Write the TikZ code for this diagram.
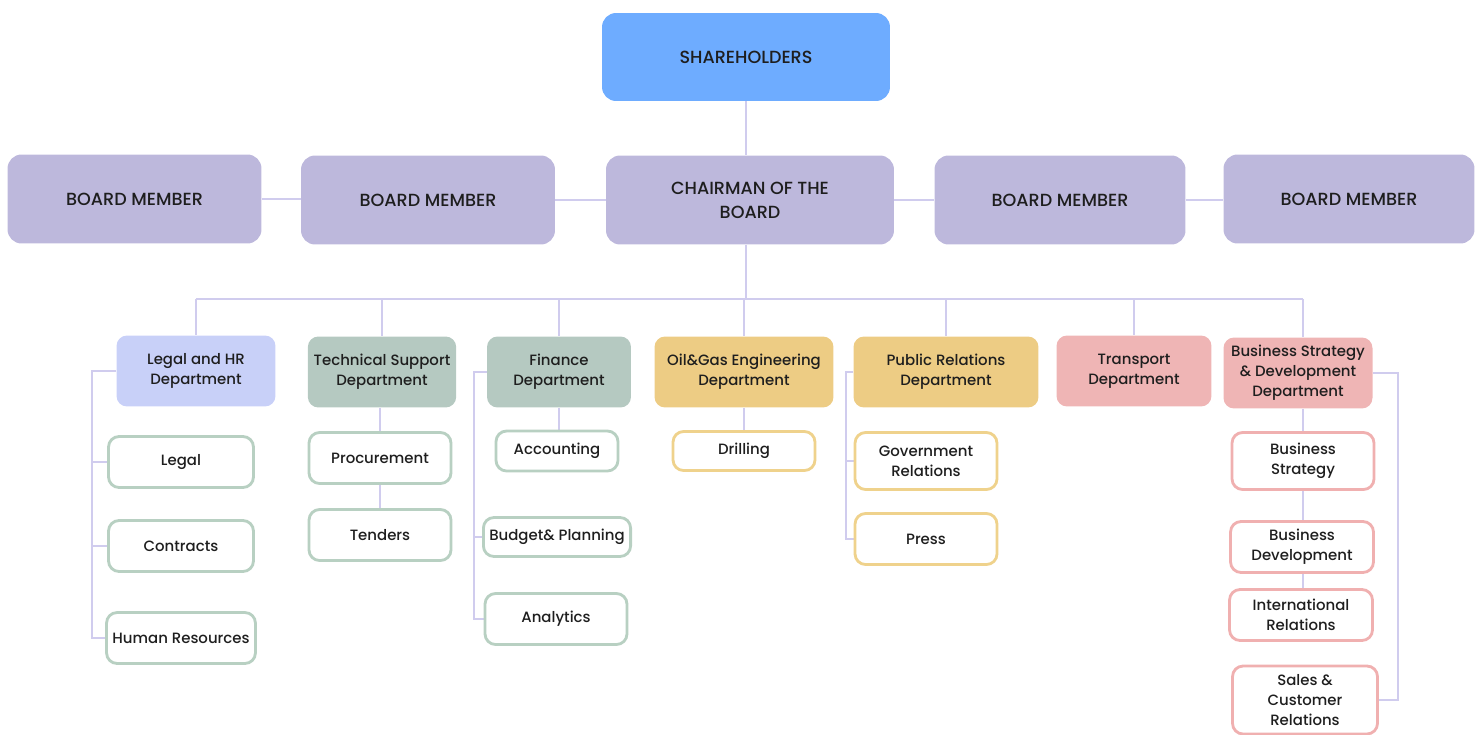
\documentclass[tikz,border=0pt]{standalone}
\usepackage{fontspec}
\setmainfont{Poppins}[UprightFont=* Medium]
\usepackage{tikz}
\usetikzlibrary{positioning, calc, backgrounds}
\definecolor{cTop}{RGB}{110,172,255}
\definecolor{cBoard}{RGB}{189,184,220}
\definecolor{cHR}{RGB}{200,208,248}
\definecolor{cSage}{RGB}{181,201,193}
\definecolor{cSageLine}{RGB}{184,208,194}
\definecolor{cGold}{RGB}{237,204,132}
\definecolor{cGoldLine}{RGB}{239,210,140}
\definecolor{cRose}{RGB}{239,181,181}
\definecolor{cRoseLine}{RGB}{240,176,176}
\definecolor{cLink}{RGB}{208,204,238}
\definecolor{cInk}{RGB}{30,30,30}
\tikzset{
	topbox/.style={rectangle, rounded corners=8pt, minimum width=5.76cm, minimum height=1.76cm, text centered, align=center, fill=cTop, font=\fontsize{10}{13.6}\selectfont, text=cInk},
	boardbox/.style={rectangle, rounded corners=8pt, minimum width=5.08cm, minimum height=1.78cm, text centered, align=center, fill=cBoard, font=\fontsize{10}{13.6}\selectfont, text=cInk},
	deptbox/.style={rectangle, rounded corners=6pt, minimum height=1.42cm, text centered, align=center, font=\fontsize{8.5}{11.3}\selectfont, text=cInk},
	unitbox/.style={rectangle, rounded corners=6pt, minimum width=2.9cm, minimum height=1.02cm, text centered, align=center, fill=white, line width=1.6pt, font=\fontsize{8.5}{11.3}\selectfont, text=cInk},
	link/.style={draw=cLink, line width=1.4pt},
}
\begin{document}
\begin{tikzpicture}[x=0.02cm, y=-0.02cm]
	\useasboundingbox (0,0) rectangle (1481,734);
	% top levels
	\node[topbox] (share) at (746,57) {SHAREHOLDERS};
	\node[boardbox, minimum width=5.76cm] (chair) at (750,200) {CHAIRMAN OF THE\\BOARD};
	\node[boardbox] (bm1) at (134.5,199) {BOARD MEMBER};
	\node[boardbox] (bm2) at (428,200) {BOARD MEMBER};
	\node[boardbox, minimum width=5.02cm] (bm3) at (1060,200) {BOARD MEMBER};
	\node[boardbox, minimum width=5.02cm] (bm4) at (1349,199) {BOARD MEMBER};
	% departments
	\node[deptbox, fill=cHR, minimum width=3.18cm] (lhr) at (196,371) {Legal and HR\\Department};
	\node[deptbox, fill=cSage, minimum width=2.96cm] (tech) at (382,372) {Technical Support\\Department};
	\node[deptbox, fill=cSage, minimum width=2.88cm] (fin) at (559,372) {Finance\\Department};
	\node[deptbox, fill=cGold, minimum width=3.58cm] (oil) at (744,372) {Oil\&Gas Engineering\\Department};
	\node[deptbox, fill=cGold, minimum width=3.7cm] (pr) at (946,372) {Public Relations\\Department};
	\node[deptbox, fill=cRose, minimum width=3.1cm] (trans) at (1134,371) {Transport\\Department};
	\node[deptbox, fill=cRose, minimum width=2.98cm] (bsd) at (1298,373) {Business Strategy\\\& Development\\Department};
	% units
	\node[unitbox, draw=cSageLine] (legal) at (181,462) {Legal};
	\node[unitbox, draw=cSageLine] (contr) at (181,546) {Contracts};
	\node[unitbox, draw=cSageLine] (hres) at (181,638) {Human Resources};
	\node[unitbox, draw=cSageLine, minimum width=2.84cm] (proc) at (380,458) {Procurement};
	\node[unitbox, draw=cSageLine, minimum width=2.84cm] (tend) at (380,535) {Tenders};
	\node[unitbox, draw=cSageLine, minimum width=2.44cm, minimum height=0.8cm] (acc) at (557,451) {Accounting};
	\node[unitbox, draw=cSageLine, minimum width=2.92cm, minimum height=0.78cm] (budg) at (557,537) {Budget\& Planning};
	\node[unitbox, draw=cSageLine, minimum width=2.84cm] (anal) at (556,619) {Analytics};
	\node[unitbox, draw=cGoldLine, minimum width=2.84cm, minimum height=0.78cm] (drill) at (744,451) {Drilling};
	\node[unitbox, draw=cGoldLine, minimum width=2.84cm, minimum height=1.14cm] (gov) at (926,461) {Government\\Relations};
	\node[unitbox, draw=cGoldLine, minimum width=2.84cm] (press) at (926,539) {Press};
	\node[unitbox, draw=cRoseLine, minimum width=2.84cm, minimum height=1.14cm] (bstr) at (1303,461) {Business\\Strategy};
	\node[unitbox, draw=cRoseLine, minimum width=2.86cm] (bdev) at (1302,547) {Business\\Development};
	\node[unitbox, draw=cRoseLine, minimum width=2.86cm] (intl) at (1301,615) {International\\Relations};
	\node[unitbox, draw=cRoseLine, minimum width=2.9cm, minimum height=1.36cm] (sales) at (1305,700) {Sales \&\\Customer\\Relations};
	% rails
	\coordinate (bus) at (746,299);
	\coordinate (lhrrail) at (92,370);
	\coordinate (finrail) at (474,375);
	\coordinate (prrail) at (846,373);
	\coordinate (bsdrail) at (1398,369);
	\coordinate (bsdstem) at (1303,0);
	\begin{scope}[on background layer]
		\draw[link] (share.south) -- (share.south |- chair.north);
		\draw[link] (bm1.east) -- (bm1.east -| bm2.west);
		\draw[link] (bm2.east) -- (bm2.east -| chair.west);
		\draw[link] (chair.east) -- (bm3.west);
		\draw[link] (bm3.east) -- (bm3.east -| bm4.west);
		\draw[link] (bus |- chair.south) -- (bus);
		\draw[link] (lhr.north |- bus) -- (bus -| bsdstem);
		\foreach \d in {lhr,tech,fin,oil,pr,trans}
			\draw[link] (\d.north |- bus) -- (\d.north);
		\draw[link] (bus -| bsdstem) -- (bsd.north -| bsdstem);
		% legal and hr
		\draw[link] (lhr.west) -- (lhr.west -| lhrrail) |- (hres.west);
		\draw[link] (legal.west) -- (legal.west -| lhrrail);
		\draw[link] (contr.west) -- (contr.west -| lhrrail);
		% technical support
		\draw[link] (proc.north |- tech.south) -- (proc.north);
		\draw[link] (proc) -- (tend);
		% finance
		\draw[link] (fin.west) -- (fin.west -| finrail) |- (anal.west);
		\draw[link] (budg.west) -- (budg.west -| finrail);
		\draw[link] (fin.south) -- (fin.south |- acc.north);
		% oil and gas
		\draw[link] (oil) -- (drill);
		% public relations
		\draw[link] (pr.west) -- (pr.west -| prrail) |- (press.west);
		\draw[link] (gov.west) -- (gov.west -| prrail);
		% business strategy
		\draw[link] (bsd.south -| bsdstem) -- (intl.north -| bsdstem);
		\draw[link] (bsd.east) -- (bsd.east -| bsdrail) |- (sales.east);
	\end{scope}
\end{tikzpicture}
\end{document}
